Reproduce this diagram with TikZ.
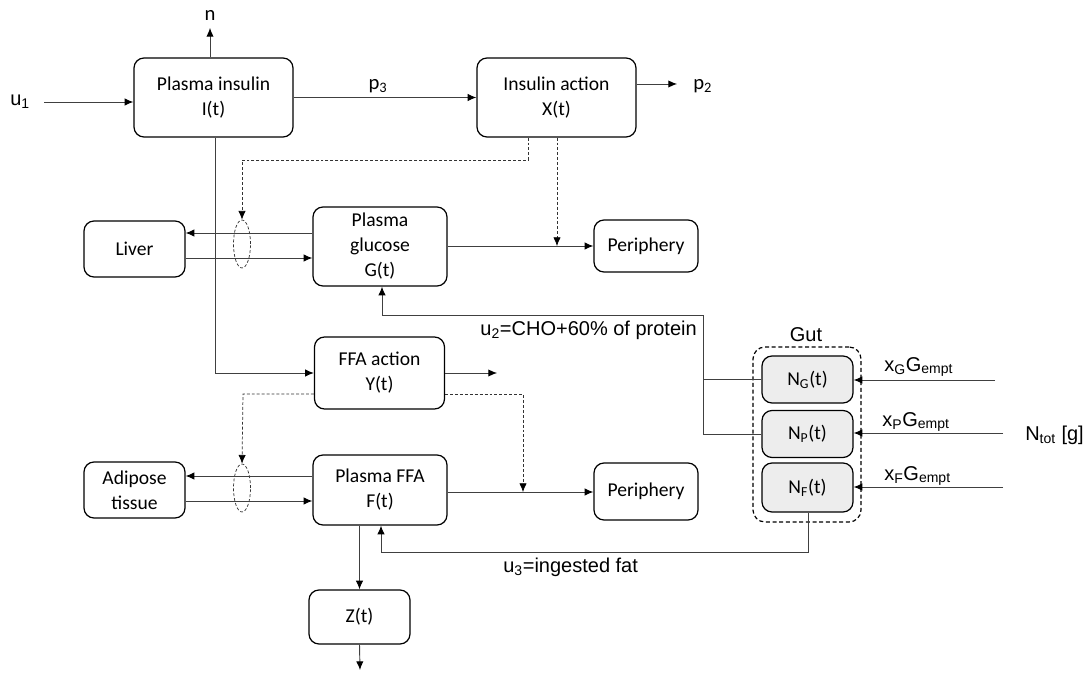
\documentclass[tikz,border=0pt]{standalone}
\usepackage{fontspec}
\setmainfont{Carlito}
\newfontfamily\arialf{Liberation Sans}
\usetikzlibrary{arrows.meta,shapes.geometric}

\begin{document}
\begin{tikzpicture}[x=0.75pt,y=-0.75pt,
  box/.style={draw=black,line width=0.9pt,rounded corners=7.5pt,inner sep=0pt,
    align=center,font=\fontsize{14.7}{18.75}\selectfont},
  gutcell/.style={box,fill=black!7,minimum width=68.25pt,minimum height=35.25pt},
  conn/.style={draw=black!75,line width=0.7pt},
  tip/.style={-{Latex[length=6.5pt,width=5.5pt,fill=black,color=black]}},
  arr/.style={conn,tip},
  darr/.style={draw=black!80,line width=0.55pt,dash pattern=on 2.2pt off 1.5pt,tip},
  valve/.style={ellipse,draw=black!80,line width=0.55pt,dash pattern=on 2.2pt off 1.5pt,
    minimum width=12.75pt,minimum height=36pt,inner sep=0pt},
  lbl/.style={inner sep=0pt,font=\arialf\fontsize{15}{17}\selectfont},
  clbl/.style={inner sep=0pt,font=\fontsize{15.5}{18}\selectfont}]

\useasboundingbox (0,0) rectangle (1089,673);

% compartments
\node[box,minimum width=119.25pt,minimum height=59.25pt] (PI) at (213.5,97.5) {Plasma insulin\\I(t)};
\node[box,minimum width=119.25pt,minimum height=59.25pt] (IA) at (556.5,97.5) {Insulin action\\X(t)};
\node[box,minimum width=75.75pt,minimum height=42pt] (Liver) at (134.5,249) {Liver};
\node[box,minimum width=100.5pt,minimum height=59.25pt] (PG) at (380,246.5) {Plasma\\glucose\\G(t)};
\node[box,minimum width=78pt,minimum height=39pt] (Per1) at (646,246) {Periphery};
\node[box,minimum width=97.5pt,minimum height=54pt] (FA) at (379.5,373) {FFA action\\Y(t)};
\node[box,minimum width=75.75pt,minimum height=42pt] (Adi) at (134.5,490) {Adipose\\tissue};
\node[box,minimum width=100.5pt,minimum height=52.5pt] (PF) at (380,490) {Plasma FFA\\F(t)};
\node[box,minimum width=78pt,minimum height=42.75pt] (Per2) at (646,491.5) {Periphery};
\node[box,minimum width=75.75pt,minimum height=40.5pt] (Z) at (359.5,617) {Z(t)};

% gut
\node[draw=black,line width=0.9pt,dash pattern=on 3pt off 2pt,rounded corners=9pt,
  minimum width=81pt,minimum height=131.25pt] (gut) at (807,434.5) {};
\node[lbl] (gutlbl) at (806,335) {Gut};
\node[gutcell] (NG) at (807.5,379.5) {N\textsubscript{G}(t)};
\node[gutcell] (NP) at (807.5,434) {N\textsubscript{P}(t)};
\node[gutcell,minimum height=36.75pt] (NF) at (807.5,487.5) {N\textsubscript{F}(t)};

% valves on the liver and adipose fluxes
\node[valve] (e1) at (242,244) {};
\node[valve] (e2) at (242,488) {};

% labels
\node[clbl] (n) at (210,15) {n};
\node[lbl,anchor=west] (u1) at (10,102) {u\textsubscript{1}};
\node[clbl] (p3) at (378,86) {p\textsubscript{3}};
\node[clbl,anchor=west] (p2) at (693,86) {p\textsubscript{2}};
\node[lbl,anchor=east] (u2) at (697,330) {u\textsubscript{2}=CHO+60\% of protein};
\node[lbl,anchor=west] (u3) at (503,567) {u\textsubscript{3}=ingested fat};
\node[lbl,anchor=west] (xg) at (884,367) {x\textsubscript{G}G\textsubscript{empt}};
\node[lbl,anchor=west] (xp) at (882,422) {x\textsubscript{P}G\textsubscript{empt}};
\node[lbl,anchor=west] (xf) at (884,476) {x\textsubscript{F}G\textsubscript{empt}};
\node[lbl,anchor=west] (ntot) at (1025,435) {N\textsubscript{tot} [g]};

% routing points
\coordinate (u1s) at (44,102);
\coordinate (nend) at (210,28);
\coordinate (p2e) at (677,84);
\coordinate (insx) at (215,373);
\coordinate (d1a) at (528,160);
\coordinate (d1b) at (242,160);
\coordinate (d2) at (557,246);
\coordinate (lg1) at (0,233);
\coordinate (lg2) at (0,258);
\coordinate (u2top) at (703,315);
\coordinate (u2bend) at (382,315);
\coordinate (g1) at (995,380);
\coordinate (g2) at (1003,433);
\coordinate (g3) at (1003,487);
\coordinate (u3a) at (808,552);
\coordinate (u3b) at (381,552);
\coordinate (faout) at (497,373);
\coordinate (d3a) at (0,394);
\coordinate (d3b) at (243,394);
\coordinate (d4a) at (523,394);
\coordinate (d4b) at (523,492);
\coordinate (af1) at (0,476);
\coordinate (af2) at (0,501);
\coordinate (zout) at (360,670);

% insulin
\draw[arr] (u1s) -- (PI.west |- u1s);
\draw[arr] (PI.north -| nend) -- (nend);
\draw[arr] (PI.east |- IA.west) -- (IA.west);
\draw[arr] (IA.east |- p2e) -- (p2e);
\draw[arr] (PI.south -| insx) -- (insx) -- (FA.west);

% insulin action effects
\draw[darr] (IA.south -| d1a) -- (d1a) -- (d1b) -- (e1.north);
\draw[darr] (IA.south -| d2) -- (d2);

% glucose
\draw[arr] (PG.west |- lg1) -- (Liver.east |- lg1);
\draw[arr] (Liver.east |- lg2) -- (PG.west |- lg2);
\draw[arr] (PG.east |- Per1.west) -- (Per1.west);
\draw[arr] (NG.west) -- (NG.west -| u2top) -- (u2top) -- (u2bend) -- (PG.south -| u2bend);
\draw[conn] (NP.west) -- (NP.west -| u2top) -- (u2top);

% gut inputs
\draw[arr] (g1) -- (NG.east |- g1);
\draw[arr] (g2) -- (NP.east |- g2);
\draw[arr] (g3) -- (NF.east |- g3);

% FFA
\draw[arr] (FA.east) -- (faout);
\draw[darr] (FA.west |- d3a) -- (d3b) -- (e2.north);
\draw[darr] (FA.east |- d4a) -- (d4a) -- (d4b);
\draw[arr] (PF.west |- af1) -- (Adi.east |- af1);
\draw[arr] (Adi.east |- af2) -- (PF.west |- af2);
\draw[arr] (PF.east |- d4b) -- (Per2.west |- d4b);
\draw[arr] (NF.south -| u3a) -- (u3a) -- (u3b) -- (PF.south -| u3b);
\draw[arr] (PF.south -| Z.north) -- (Z.north);
\draw[arr] (Z.south) -- (zout);

\end{tikzpicture}
\end{document}
